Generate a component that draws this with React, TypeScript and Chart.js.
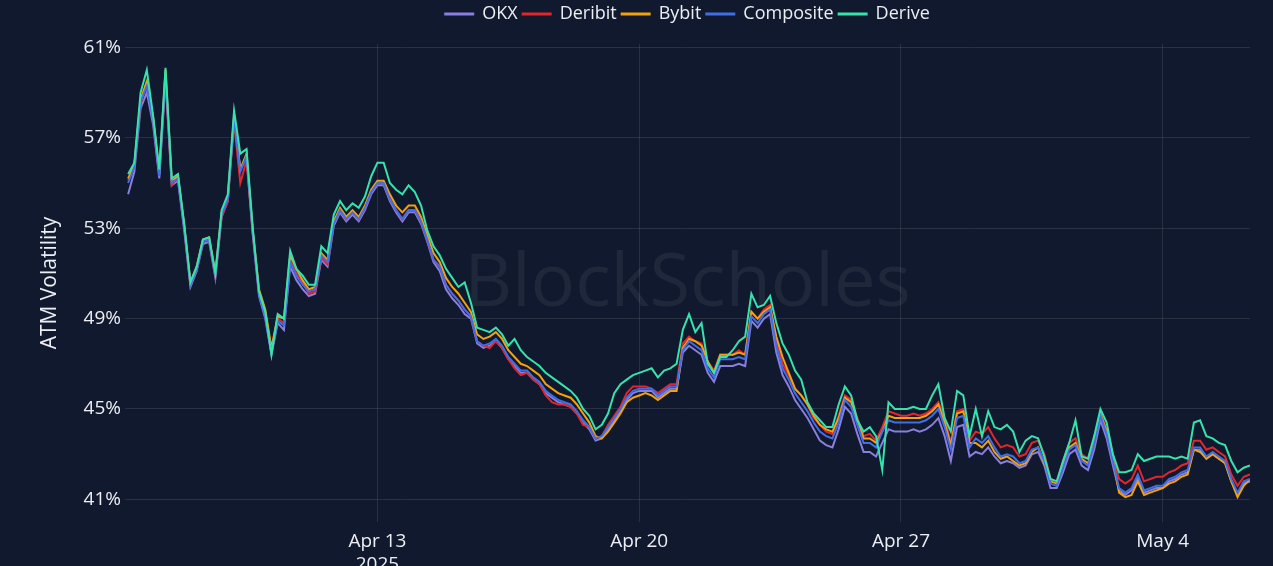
import React, { useEffect, useRef } from 'react';
import { Chart, registerables } from 'chart.js';

Chart.register(...registerables);

const BG = '#10192d';
const SERIES_NAMES = ['OKX', 'Deribit', 'Bybit', 'Composite', 'Derive'];
const SERIES_COLORS = ['#8a7ee0', '#e3262b', '#f2a20c', '#3f6ee8', '#36e3ad'];
// hours relative to Apr 13 2025 00:00; first sample Apr 6 08:00, one sample every 4 hours
const START_HOUR = -160;
const STEP_HOURS = 4;
const X_TICK_HOURS = [0, 168, 336, 504];
const X_TICK_LABELS: (string | string[])[] = [['Apr 13', '2025'], 'Apr 20', 'Apr 27', 'May 4'];
const Y_TICKS = [41, 45, 49, 53, 57, 61];

const okx = [
  54.5, 55.5, 58.3, 59.0, 57.6, 55.2, 59.6, 54.9, 55.1, 52.9,
  50.4, 51.1, 52.3, 52.4, 50.8, 53.5, 54.2, 58.0, 55.6, 56.1,
  52.7, 50.0, 49.0, 47.4, 48.8, 48.5, 51.3, 50.7, 50.3, 50.0,
  50.1, 51.6, 51.3, 53.1, 53.7, 53.3, 53.6, 53.3, 53.8, 54.5,
  54.9, 54.9, 54.2, 53.7, 53.3, 53.7, 53.7, 53.2, 52.4, 51.5,
  51.1, 50.3, 49.9, 49.6, 49.2, 49.0, 47.9, 47.7, 47.8, 48.0,
  47.7, 47.2, 46.9, 46.6, 46.6, 46.3, 46.1, 45.7, 45.5, 45.3,
  45.2, 45.1, 44.8, 44.4, 44.1, 43.6, 43.7, 44.1, 44.5, 44.9,
  45.4, 45.7, 45.8, 45.8, 45.8, 45.5, 45.7, 45.9, 45.9, 47.5,
  47.8, 47.6, 47.4, 46.6, 46.2, 46.9, 46.9, 46.9, 47.0, 46.9,
  48.9, 48.6, 49.0, 49.2, 47.5, 46.5, 46.0, 45.4, 45.0, 44.6,
  44.1, 43.6, 43.4, 43.3, 44.1, 45.1, 44.8, 43.9, 43.1, 43.1,
  42.9, 43.5, 44.1, 44.0, 44.0, 44.0, 44.1, 44.0, 44.1, 44.3,
  44.6, 43.8, 42.7, 44.2, 44.3, 42.9, 43.1, 43.0, 43.3, 42.9,
  42.6, 42.7, 42.6, 42.4, 42.5, 43.0, 43.1, 42.5, 41.5, 41.5,
  42.2, 43.0, 43.2, 42.5, 42.3, 43.2, 44.5, 43.7, 42.5, 41.4,
  41.2, 41.4, 42.0, 41.3, 41.4, 41.5, 41.5, 41.8, 41.9, 42.1,
  42.2, 43.2, 43.2, 42.8, 43.0, 42.8, 42.6, 41.8, 41.2, 41.7, 41.8,
];

const deribit = [
  55.1, 55.8, 58.5, 59.4, 57.9, 55.5, 59.7, 54.9, 55.3, 53.1,
  50.5, 51.2, 52.4, 52.5, 50.9, 53.5, 54.2, 57.7, 55.0, 56.0,
  52.8, 50.2, 49.2, 47.6, 49.0, 48.8, 51.6, 51.0, 50.6, 50.1,
  50.2, 51.7, 51.4, 53.2, 53.8, 53.4, 53.7, 53.4, 53.9, 54.6,
  55.0, 55.0, 54.3, 53.8, 53.4, 53.8, 53.8, 53.3, 52.5, 51.6,
  51.3, 50.5, 50.1, 49.8, 49.4, 49.1, 48.0, 47.8, 47.7, 48.0,
  47.7, 47.2, 46.8, 46.5, 46.6, 46.3, 46.1, 45.6, 45.3, 45.2,
  45.2, 45.1, 44.8, 44.3, 44.2, 43.7, 43.8, 44.3, 44.7, 45.1,
  45.7, 46.0, 46.0, 46.0, 45.9, 45.7, 45.9, 46.1, 46.1, 47.9,
  48.2, 48.0, 47.9, 47.1, 46.7, 47.4, 47.4, 47.4, 47.6, 47.4,
  49.3, 49.0, 49.4, 49.6, 48.1, 47.0, 46.5, 45.9, 45.6, 45.2,
  44.6, 44.3, 44.0, 43.9, 44.7, 45.6, 45.4, 44.6, 43.8, 43.9,
  43.6, 44.2, 44.9, 44.8, 44.7, 44.7, 44.8, 44.7, 44.8, 45.0,
  45.3, 44.6, 43.5, 44.9, 45.0, 43.6, 44.0, 43.9, 44.2, 43.7,
  43.3, 43.4, 43.3, 42.9, 43.0, 43.5, 43.6, 43.0, 41.9, 41.8,
  42.7, 43.5, 43.7, 43.0, 42.8, 43.6, 44.8, 44.1, 43.0, 41.9,
  41.7, 41.9, 42.5, 41.8, 41.9, 42.0, 42.0, 42.2, 42.3, 42.5,
  42.6, 43.6, 43.6, 43.2, 43.3, 43.1, 42.9, 42.1, 41.6, 42.0, 42.1,
];

const bybit = [
  55.2, 55.8, 58.7, 59.5, 57.9, 55.4, 60.0, 55.1, 55.3, 53.1,
  50.6, 51.3, 52.5, 52.6, 51.0, 53.7, 54.4, 57.9, 55.6, 56.3,
  52.9, 50.3, 49.4, 47.7, 49.1, 49.0, 51.8, 51.2, 50.7, 50.3,
  50.4, 51.9, 51.6, 53.3, 53.9, 53.5, 53.8, 53.5, 54.0, 54.7,
  55.1, 55.1, 54.5, 54.0, 53.7, 54.0, 54.0, 53.5, 52.7, 51.9,
  51.5, 50.8, 50.4, 50.1, 49.7, 49.3, 48.3, 48.1, 48.2, 48.4,
  48.1, 47.6, 47.3, 47.0, 46.9, 46.7, 46.5, 46.1, 45.9, 45.7,
  45.6, 45.5, 45.2, 44.8, 44.4, 43.8, 43.7, 44.0, 44.4, 44.8,
  45.3, 45.5, 45.6, 45.7, 45.6, 45.4, 45.6, 45.8, 45.8, 47.7,
  48.1, 48.0, 47.8, 47.1, 46.6, 47.4, 47.4, 47.4, 47.5, 47.4,
  49.3, 49.0, 49.3, 49.5, 48.2, 47.3, 46.6, 45.9, 45.6, 45.2,
  44.7, 44.3, 44.1, 44.0, 44.6, 45.5, 45.3, 44.5, 43.7, 43.7,
  43.5, 44.0, 44.7, 44.6, 44.6, 44.6, 44.6, 44.6, 44.7, 44.9,
  45.2, 44.4, 43.4, 44.8, 44.9, 43.5, 43.5, 43.3, 43.6, 43.1,
  42.8, 42.9, 42.7, 42.5, 42.6, 43.1, 43.3, 42.6, 41.8, 41.7,
  42.5, 43.3, 43.5, 42.8, 42.6, 43.4, 44.8, 44.0, 42.8, 41.3,
  41.1, 41.2, 41.8, 41.2, 41.3, 41.4, 41.5, 41.7, 41.8, 42.0,
  42.1, 43.2, 43.1, 42.8, 43.0, 42.8, 42.6, 41.8, 41.1, 41.6, 41.9,
];

const composite = [
  55.0, 55.7, 58.6, 59.3, 57.8, 55.3, 59.8, 55.0, 55.2, 53.0,
  50.5, 51.2, 52.4, 52.5, 50.9, 53.6, 54.3, 57.8, 55.5, 56.2,
  52.8, 50.1, 49.1, 47.5, 48.9, 48.7, 51.5, 50.9, 50.5, 50.2,
  50.3, 51.8, 51.5, 53.2, 53.8, 53.4, 53.7, 53.4, 53.9, 54.6,
  55.0, 55.0, 54.3, 53.8, 53.4, 53.8, 53.8, 53.3, 52.5, 51.6,
  51.3, 50.5, 50.1, 49.8, 49.4, 49.1, 48.0, 47.8, 47.9, 48.1,
  47.8, 47.3, 47.0, 46.7, 46.7, 46.4, 46.2, 45.8, 45.6, 45.4,
  45.3, 45.2, 44.9, 44.5, 44.2, 43.7, 43.8, 44.2, 44.6, 45.0,
  45.5, 45.8, 45.9, 45.9, 45.9, 45.6, 45.8, 46.0, 46.0, 47.6,
  48.0, 47.8, 47.6, 46.8, 46.4, 47.2, 47.2, 47.2, 47.3, 47.2,
  49.1, 48.8, 49.2, 49.4, 47.8, 46.8, 46.3, 45.7, 45.3, 44.9,
  44.4, 44.0, 43.8, 43.7, 44.4, 45.4, 45.1, 44.3, 43.5, 43.5,
  43.3, 44.0, 44.5, 44.4, 44.4, 44.4, 44.4, 44.4, 44.5, 44.7,
  45.0, 44.2, 43.2, 44.6, 44.7, 43.3, 43.7, 43.5, 43.8, 43.3,
  42.9, 43.0, 42.9, 42.6, 42.7, 43.2, 43.3, 42.7, 41.7, 41.6,
  42.4, 43.2, 43.4, 42.7, 42.5, 43.4, 44.7, 43.9, 42.7, 41.5,
  41.3, 41.5, 42.1, 41.4, 41.5, 41.6, 41.6, 41.9, 42.0, 42.2,
  42.3, 43.3, 43.3, 42.9, 43.1, 42.9, 42.7, 41.9, 41.3, 41.8, 41.9,
];

const derive = [
  55.4, 55.9, 59.0, 60.0, 58.0, 55.6, 60.1, 55.2, 55.4, 53.2,
  50.6, 51.3, 52.5, 52.6, 51.0, 53.8, 54.5, 58.2, 56.3, 56.5,
  53.0, 50.2, 49.3, 47.4, 49.2, 49.0, 52.0, 51.2, 50.9, 50.5,
  50.5, 52.2, 51.9, 53.6, 54.2, 53.8, 54.1, 53.9, 54.4, 55.3,
  55.9, 55.9, 55.0, 54.7, 54.5, 54.9, 54.6, 54.0, 52.9, 52.2,
  51.8, 51.2, 50.8, 50.4, 50.6, 49.7, 48.6, 48.5, 48.4, 48.6,
  48.3, 47.8, 48.1, 47.6, 47.3, 47.1, 46.9, 46.6, 46.4, 46.2,
  46.0, 45.8, 45.5, 45.0, 44.7, 44.1, 44.3, 44.8, 45.7, 46.1,
  46.3, 46.5, 46.6, 46.7, 46.8, 46.4, 46.7, 46.8, 47.0, 48.5,
  49.2, 48.4, 48.8, 47.0, 46.6, 47.3, 47.3, 47.6, 48.0, 48.2,
  50.1, 49.5, 49.6, 50.0, 48.8, 47.9, 47.4, 46.7, 46.3, 45.3,
  44.8, 44.5, 44.2, 44.2, 45.2, 46.0, 45.6, 44.5, 44.0, 44.2,
  43.8, 42.3, 45.3, 45.0, 45.0, 45.0, 45.1, 45.0, 45.0, 45.6,
  46.1, 44.6, 44.0, 45.8, 45.6, 43.8, 45.0, 43.8, 44.9, 44.2,
  44.1, 44.3, 44.0, 43.1, 43.6, 43.8, 43.7, 42.9, 41.9, 41.8,
  42.7, 43.5, 44.5, 42.9, 42.8, 43.8, 45.0, 44.4, 43.0, 42.2,
  42.2, 42.3, 43.0, 42.7, 42.8, 42.9, 42.9, 42.9, 42.8, 42.9,
  42.8, 44.4, 44.5, 43.8, 43.7, 43.5, 43.4, 42.7, 42.2, 42.4, 42.5,
];

const FONT_FAMILY = '"Open Sans", "DejaVu Sans", sans-serif';
const TEXT_COLOR = '#eceef3';
const GRID_COLOR = 'rgba(255,255,255,0.10)';

const legendSpacer = {
  id: 'legendSpacer',
  beforeInit(chart: any) {
    if (!chart.legend) return;
    const origFit = chart.legend.fit;
    chart.legend.fit = function fit() {
      origFit.bind(chart.legend)();
      this.height += 11;
    };
  },
};

const watermark = {
  id: 'watermark',
  beforeDatasetsDraw(chart: any) {
    const { ctx, chartArea } = chart;
    ctx.save();
    ctx.font = `400 74px ${FONT_FAMILY}`;
    ctx.fillStyle = 'rgba(255,255,255,0.065)';
    ctx.textAlign = 'center';
    ctx.textBaseline = 'middle';
    ctx.fillText('BlockScholes', (chartArea.left + chartArea.right) / 2, 285);
    ctx.restore();
  },
};

export default function App() {
  const ref = useRef<HTMLCanvasElement>(null);
  useEffect(() => {
    document.body.style.margin = '0';
    document.body.style.background = BG;
    const canvas = ref.current;
    if (!canvas) return;
    const series = [okx, deribit, bybit, composite, derive];
    const chart = new Chart(canvas, {
      type: 'line',
      data: {
        datasets: series.map((vals, k) => ({
          label: SERIES_NAMES[k],
          data: vals.map((v, i) => ({ x: START_HOUR + i * STEP_HOURS, y: v })),
          borderColor: SERIES_COLORS[k],
          backgroundColor: SERIES_COLORS[k],
          borderWidth: 2,
          pointRadius: 0,
          tension: 0,
          order: series.length - k,
        })),
      },
      options: {
        animation: false,
        responsive: false,
        devicePixelRatio: 1,
        layout: { padding: { left: 0, right: 23, top: 0, bottom: 0 } },
        plugins: {
          tooltip: { enabled: false },
          legend: {
            position: 'top',
            fullSize: false,
            labels: {
              color: TEXT_COLOR,
              font: { family: FONT_FAMILY, size: 18, weight: '500' },
              boxWidth: 28,
              boxHeight: 1,
              padding: 5,
              sort: (a: any, b: any) => a.datasetIndex - b.datasetIndex,
            },
          },
        },
        scales: {
          x: {
            type: 'linear',
            min: -162,
            max: 560,
            border: { display: false },
            grid: { color: GRID_COLOR, drawTicks: false },
            afterBuildTicks: (scale: any) => {
              scale.ticks = X_TICK_HOURS.map((v) => ({ value: v }));
            },
            afterFit: (scale: any) => {
              scale.height = 44;
            },
            ticks: {
              color: TEXT_COLOR,
              font: { family: FONT_FAMILY, size: 19, weight: '500' },
              padding: 8,
              maxRotation: 0,
              autoSkip: false,
              callback: (value: any) => {
                const idx = X_TICK_HOURS.indexOf(Number(value));
                return idx >= 0 ? X_TICK_LABELS[idx] : '';
              },
            },
          },
          y: {
            min: 40.0,
            max: 61.15,
            border: { display: false },
            grid: { color: GRID_COLOR, drawTicks: false },
            afterBuildTicks: (scale: any) => {
              scale.ticks = Y_TICKS.map((v) => ({ value: v }));
            },
            afterFit: (scale: any) => {
              scale.width = 125;
            },
            ticks: {
              color: TEXT_COLOR,
              font: { family: FONT_FAMILY, size: 19, weight: '500' },
              padding: 4,
              callback: (value: any) => `${value}%`,
            },
            title: {
              display: true,
              text: 'ATM Volatility',
              color: TEXT_COLOR,
              font: { family: FONT_FAMILY, size: 21, weight: '500' },
              padding: { top: 37, bottom: 0 },
            },
          },
        },
      },
      plugins: [legendSpacer, watermark],
    } as any);
    return () => chart.destroy();
  }, []);
  return (
    <div style={{ width: 1273, height: 566, background: BG, overflow: 'hidden' }}>
      <canvas ref={ref} width={1273} height={566} style={{ display: 'block' }} />
    </div>
  );
}
